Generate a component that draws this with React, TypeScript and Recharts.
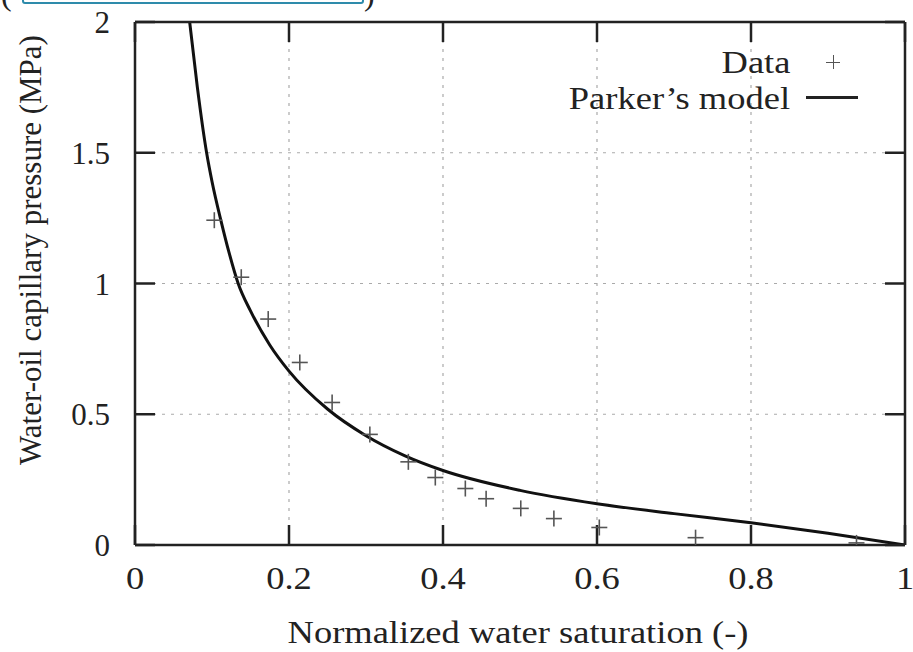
import { ComposedChart, Line, Scatter, XAxis, YAxis, CartesianGrid, ReferenceLine } from "recharts";

// measured points (Data)
const dataX = [0.103, 0.138, 0.173, 0.214, 0.256, 0.305, 0.355, 0.39, 0.429, 0.456, 0.501, 0.544, 0.603, 0.728, 0.937];
const dataY = [1.242, 1.024, 0.864, 0.698, 0.545, 0.423, 0.318, 0.258, 0.216, 0.177, 0.14, 0.101, 0.067, 0.028, 0.008];

// Parker's model curve
const modelX = [0.071, 0.081, 0.093, 0.1, 0.112, 0.122, 0.134, 0.15, 0.175, 0.2, 0.25, 0.3, 0.35, 0.4, 0.5, 0.6, 0.7, 0.8, 0.9, 1.0];
const modelY = [2.0, 1.75, 1.5, 1.39, 1.236, 1.12, 1.0, 0.895, 0.765, 0.665, 0.52, 0.418, 0.342, 0.285, 0.209, 0.158, 0.12, 0.085, 0.045, 0.0];

const xTicks = [0, 0.2, 0.4, 0.6, 0.8, 1];
const yTicks = [0, 0.5, 1, 1.5, 2];

const points = dataX.map((x, i) => ({ x, y: dataY[i] }));
const model = modelX.map((x, i) => ({ x, y: modelY[i] }));

const FONT = "'Liberation Serif', 'Times New Roman', serif";
const INK = "#222";
const STRETCH = 1.14; // the source figure is a bit wide
const TICK_LEN = 20;

const Cross = (props: any) => {
  const { cx, cy } = props;
  if (cx == null || cy == null) return null;
  const s = 8;
  return (
    <g stroke="#555" strokeWidth={1.6}>
      <line x1={cx - s} y1={cy} x2={cx + s} y2={cy} />
      <line x1={cx} y1={cy - s} x2={cx} y2={cy + s} />
    </g>
  );
};

const BottomTick = ({ x, y, payload }: any) => (
  <text
    transform={`translate(${x},${y}) scale(${STRETCH},1)`}
    textAnchor="middle"
    dy="0.75em"
    fontFamily={FONT}
    fontSize={32}
    fill={INK}
  >
    {payload.value}
  </text>
);

const LeftTick = ({ x, y, payload }: any) => (
  <text x={x} y={y} textAnchor="end" dy="0.36em" fontFamily={FONT} fontSize={31} fill={INK}>
    {payload.value}
  </text>
);

// gnuplot-style ticks: short marks pointing into the plot at both ends of a reference line
const VTicks = (props: any) => {
  const x = Number(props.x1);
  const top = Math.min(Number(props.y1), Number(props.y2));
  const bot = Math.max(Number(props.y1), Number(props.y2));
  return (
    <g stroke={INK} strokeWidth={2.5}>
      <line x1={x} y1={top} x2={x} y2={top + TICK_LEN} />
      <line x1={x} y1={bot} x2={x} y2={bot - TICK_LEN} />
    </g>
  );
};

const HTicks = (props: any) => {
  const y = Number(props.y1);
  const left = Math.min(Number(props.x1), Number(props.x2));
  const right = Math.max(Number(props.x1), Number(props.x2));
  return (
    <g stroke={INK} strokeWidth={2.5}>
      <line x1={left} y1={y} x2={left + TICK_LEN} y2={y} />
      <line x1={right} y1={y} x2={right - TICK_LEN} y2={y} />
    </g>
  );
};

const textStyle = {
  position: "absolute" as const,
  fontFamily: FONT,
  fontSize: 32,
  color: INK,
  whiteSpace: "nowrap" as const,
  lineHeight: "40px",
};

export default function App() {
  return (
    <div style={{ position: "absolute", left: 0, top: 0, width: 913, height: 652, background: "#fff", overflow: "hidden" }}>
      {/* clipped link box at the very top */}
      <div style={{ ...textStyle, left: 1, top: -26 }}>(</div>
      <div style={{ position: "absolute", left: 22, top: -20, width: 338, height: 20, border: "2.5px solid #2e8bab", borderRadius: 3 }} />
      <div style={{ ...textStyle, left: 364, top: -26 }}>)</div>

      <ComposedChart width={913} height={652} margin={{ top: 0, right: 0, bottom: 0, left: 0 }}>
        <CartesianGrid xAxisId="b" yAxisId="l" stroke="#aaa" strokeDasharray="3 6" strokeWidth={1.2} />
        <XAxis
          xAxisId="b"
          dataKey="x"
          type="number"
          domain={[0, 1]}
          ticks={xTicks}
          height={107}
          tickSize={0}
          tickMargin={20}
          axisLine={{ stroke: INK, strokeWidth: 2.5 }}
          tickLine={false}
          tick={BottomTick}
          allowDataOverflow
        />
        <XAxis
          xAxisId="t"
          orientation="top"
          dataKey="x"
          type="number"
          domain={[0, 1]}
          ticks={xTicks}
          height={22}
          axisLine={{ stroke: INK, strokeWidth: 2.5 }}
          tickLine={false}
          tick={false}
        />
        <YAxis
          yAxisId="l"
          dataKey="y"
          type="number"
          domain={[0, 2]}
          ticks={yTicks}
          width={135}
          tickSize={0}
          tickMargin={25}
          axisLine={{ stroke: INK, strokeWidth: 2.5 }}
          tickLine={false}
          tick={LeftTick}
          allowDataOverflow
        />
        <YAxis
          yAxisId="r"
          orientation="right"
          dataKey="y"
          type="number"
          domain={[0, 2]}
          ticks={yTicks}
          width={8}
          axisLine={{ stroke: INK, strokeWidth: 2.5 }}
          tickLine={false}
          tick={false}
        />
        {xTicks.map((t) => (
          <ReferenceLine key={`vx${t}`} xAxisId="b" yAxisId="l" x={t} shape={VTicks} />
        ))}
        {yTicks.map((t) => (
          <ReferenceLine key={`hy${t}`} xAxisId="b" yAxisId="l" y={t} shape={HTicks} />
        ))}
        <Line
          xAxisId="b"
          yAxisId="l"
          data={model}
          dataKey="y"
          type="monotone"
          stroke="#111"
          strokeWidth={3}
          dot={false}
          isAnimationActive={false}
          name="Parker’s model"
        />
        <Scatter
          xAxisId="b"
          yAxisId="l"
          data={points}
          dataKey="y"
          shape={Cross}
          isAnimationActive={false}
          name="Data"
        />
      </ComposedChart>

      {/* key */}
      <div style={{ ...textStyle, right: 123, top: 42, transform: `scaleX(${STRETCH})`, transformOrigin: "right center" }}>Data</div>
      <div style={{ position: "absolute", left: 826, top: 55, width: 14, height: 14 }}>
        <div style={{ position: "absolute", left: 0, top: 6.5, width: 14, height: 1.5, background: "#555" }} />
        <div style={{ position: "absolute", left: 6.5, top: 0, width: 1.5, height: 14, background: "#555" }} />
      </div>
      <div style={{ ...textStyle, right: 123, top: 78, transform: `scaleX(${STRETCH})`, transformOrigin: "right center" }}>
        Parker’s model
      </div>
      <div style={{ position: "absolute", left: 806, top: 96, width: 52, height: 3, background: INK }} />

      {/* axis titles */}
      <div
        style={{
          ...textStyle,
          fontSize: 31,
          left: 31,
          top: 250,
          transform: "translate(-50%, -50%) rotate(-90deg)",
        }}
      >
        Water-oil capillary pressure (MPa)
      </div>
      <div
        style={{
          ...textStyle,
          left: 518,
          top: 632,
          transform: `translate(-50%, -50%) scaleX(${STRETCH})`,
        }}
      >
        Normalized water saturation (-)
      </div>
    </div>
  );
}
